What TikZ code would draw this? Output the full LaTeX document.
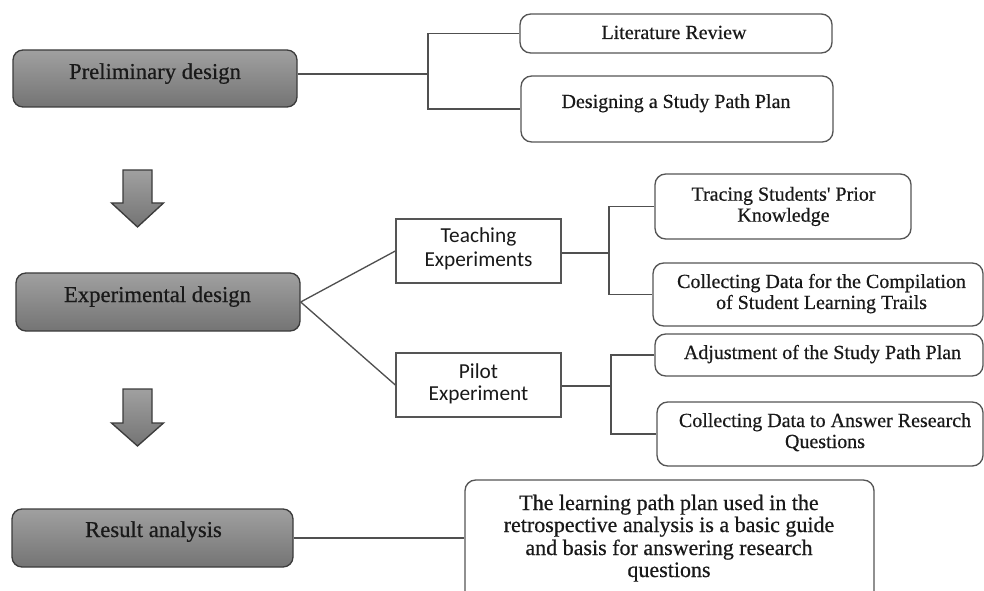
\documentclass[tikz,border=0pt]{standalone}
\usepackage{fontspec}
\setmainfont{Liberation Serif}[FakeBold=0.5]
\newfontfamily\calib{Carlito}
\definecolor{maintop}{RGB}{160,160,160}
\definecolor{mainbot}{RGB}{116,116,116}
\definecolor{maindraw}{RGB}{60,60,60}
\definecolor{subdraw}{RGB}{85,85,85}
\definecolor{linkc}{RGB}{80,80,80}
\definecolor{txt}{RGB}{25,25,25}
\begin{document}
\begin{tikzpicture}[x=0.75pt,y=-0.75pt,
  mainbox/.style={draw=maindraw, line width=1pt, rounded corners=7.5pt, top color=maintop, bottom color=mainbot, inner sep=0pt},
  subbox/.style={draw=subdraw, line width=1pt, rounded corners=8pt, fill=white, inner sep=0pt},
  plainbox/.style={draw=subdraw, line width=1pt, fill=white, inner sep=0pt},
  link/.style={draw=linkc, line width=1pt},
  flowarrow/.style={draw=maindraw, line width=1pt, top color=maintop, bottom color=mainbot},
  maintxt/.style={font=\fontsize{17}{20}\selectfont, text=txt, anchor=base, inner sep=0pt},
  subtxt/.style={font=\fontsize{15}{18}\selectfont, text=txt, anchor=base, inner sep=0pt},
  sanstxt/.style={font=\calib\fontsize{16}{19}\selectfont, text=txt, anchor=base, inner sep=0pt},
  bigtxt/.style={font=\fontsize{16.5}{19}\selectfont, text=txt, anchor=base, inner sep=0pt}
]
\useasboundingbox (0,0) rectangle (984,591);
\clip (0,0) rectangle (984,591);

% main stage boxes
\node[mainbox, minimum width=213pt, minimum height=42.75pt] (pre) at (155,78.5) {};
\node[mainbox, minimum width=213pt, minimum height=43.5pt] (exp) at (158,302) {};
\node[mainbox, minimum width=210.75pt, minimum height=43.5pt] (res) at (152.5,538) {};

% sub boxes
\node[subbox, minimum width=234pt, minimum height=29.25pt] (lit) at (676,33.5) {};
\node[subbox, minimum width=234pt, minimum height=49.5pt] (des) at (677,109) {};
\node[plainbox, minimum width=123.75pt, minimum height=48pt] (teach) at (478.5,251) {};
\node[plainbox, minimum width=123.75pt, minimum height=48pt] (pilot) at (478.5,385) {};
\node[subbox, minimum width=192pt, minimum height=48.75pt] (trace) at (783,206.5) {};
\node[subbox, minimum width=247.5pt, minimum height=47.25pt] (coll1) at (818,294.5) {};
\node[subbox, minimum width=246pt, minimum height=31.5pt] (adj) at (819,355) {};
\node[subbox, minimum width=244.5pt, minimum height=48pt] (coll2) at (820,434) {};
\node[subbox, minimum width=306.75pt, minimum height=105pt] (big) at (669.5,550) {};

% junctions
\coordinate (j1) at (428,74);
\coordinate (j2) at (609,253);
\coordinate (j3) at (611,386);

% connectors
\draw[link] (pre.east |- j1) -- (j1);
\draw[link] (lit.west) -| (j1) |- (des.west);
\draw[link] (exp.east) -- (teach.west);
\draw[link] (exp.east) -- (pilot.west);
\draw[link] (teach.east |- j2) -- (j2);
\draw[link] (trace.west) -| (j2) |- (coll1.west);
\draw[link] (pilot.east |- j3) -- (j3);
\draw[link] (adj.west) -| (j3) |- (coll2.west);
\draw[link] (res.east) -- (res.east -| big.west);

% flow arrows
\draw[flowarrow] (123,170) -- (152,170) -- (152,203) -- (163.5,203) -- (137.5,227) -- (111.5,203) -- (123,203) -- cycle;
\draw[flowarrow] (123,389) -- (152,389) -- (152,423) -- (163.5,423) -- (137.5,446) -- (111.5,423) -- (123,423) -- cycle;

% texts
\node[maintxt] (tpre) at (155,79) {Preliminary design};
\node[maintxt] (texp) at (157.5,302) {Experimental design};
\node[maintxt] (tres) at (153.5,537) {Result analysis};
\node[subtxt] (tlit) at (674,39) {Literature Review};
\node[subtxt] (tdes) at (676,108) {Designing a Study Path Plan};
\node[subtxt] (ttra1) at (783.5,200.7) {Tracing Students\textquotesingle{} Prior};
\node[subtxt] (ttra2) at (783.5,221.7) {Knowledge};
\node[subtxt] (tcol1a) at (821.5,288) {Collecting Data for the Compilation};
\node[subtxt] (tcol1b) at (821.5,309) {of Student Learning Trails};
\node[subtxt] (tadj) at (822.5,359) {Adjustment of the Study Path Plan};
\node[subtxt] (tcol2a) at (825,427) {Collecting Data to Answer Research};
\node[subtxt] (tcol2b) at (825,448) {Questions};
\node[sanstxt] (tte1) at (478.5,243) {Teaching};
\node[sanstxt] (tte2) at (478.5,267) {Experiments};
\node[sanstxt] (tpi1) at (478.5,378) {Pilot};
\node[sanstxt] (tpi2) at (478.5,400) {Experiment};
\node[bigtxt] (tbig1) at (669,510) {The learning path plan used in the};
\node[bigtxt] (tbig2) at (669,532) {retrospective analysis is a basic guide};
\node[bigtxt] (tbig3) at (669,555) {and basis for answering research};
\node[bigtxt] (tbig4) at (669,577) {questions};
\end{tikzpicture}
\end{document}
